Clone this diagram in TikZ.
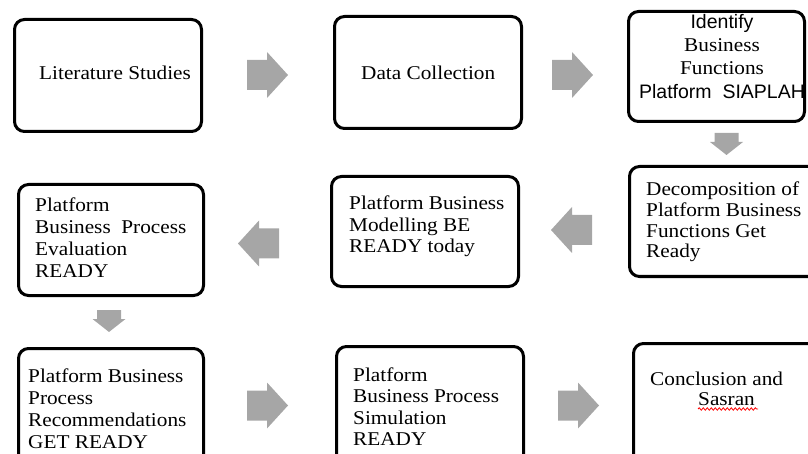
\documentclass[tikz,border=0pt]{standalone}
\usepackage{fontspec}
\setmainfont[FakeStretch=1.09]{Liberation Serif}
\newfontfamily\sansf{Liberation Sans}
\usetikzlibrary{decorations.pathmorphing}
\definecolor{arrowgray}{RGB}{166,166,166}
\tikzset{
  box/.style={draw=black, line width=3pt, rounded corners=10pt, inner sep=0pt, fill=white},
  txt/.style={inner sep=0pt, align=left, anchor=north west},
  bigarrow/.pic={\fill[arrowgray] (0,-15) -- (20,-15) -- (20,-23) -- (41,0) -- (20,23) -- (20,15) -- (0,15) -- cycle;},
  smallarrow/.pic={\fill[arrowgray] (0,-12) -- (9,-12) -- (9,-16.5) -- (22,0) -- (9,16.5) -- (9,12) -- (0,12) -- cycle;}
}
\begin{document}
\begin{tikzpicture}[x=1pt,y=-1pt]
\useasboundingbox (0,0) rectangle (808,454);
\clip (0,0) rectangle (808,454);
% boxes
\node[box, minimum width=187pt, minimum height=112pt] (b1) at (108,75.5) {};
\node[box, minimum width=187pt, minimum height=112pt] (b2) at (428,72.5) {};
\node[box, minimum width=176pt, minimum height=110pt] (b3) at (716.5,66.5) {};
\node[box, minimum width=189pt, minimum height=110pt] (b4) at (724,221.5) {};
\node[box, minimum width=187pt, minimum height=110pt] (b5) at (425,231.5) {};
\node[box, minimum width=185pt, minimum height=111pt] (b6) at (111,240) {};
\node[box, minimum width=185pt, minimum height=120pt] (b7) at (111,408.5) {};
\node[box, minimum width=187pt, minimum height=122pt] (b8) at (430,407.5) {};
\node[box, minimum width=185pt, minimum height=125pt] (b9) at (726,406) {};
% texts
\begin{scope}[every node/.append style={font=\fontsize{19.5}{22}\selectfont}]
\node[inner sep=0pt, anchor=base west] (t1) at (39,80) {Literature Studies};
\node[inner sep=0pt, anchor=base west] (t2) at (361,80) {Data Collection};
\node[inner sep=0pt, align=center, anchor=north, font=\fontsize{19.5}{23.3}\selectfont] (t3) at (722,13.8)
  {{\sansf Identify}\\Business\\Functions\\{\sansf Platform\ \ SIAPLAH}};
\node[txt, font=\fontsize{19.5}{20.7}\selectfont] (t4) at (646,181.7)
  {Decomposition of\\Platform Business\\Functions Get\\Ready};
\node[txt, font=\fontsize{19.5}{21.2}\selectfont] (t5) at (349,196)
  {Platform Business\\Modelling BE\\READY today};
\node[txt, font=\fontsize{19.5}{22}\selectfont] (t6) at (35,197.4)
  {Platform\\Business\ \ Process\\Evaluation\\READY};
\node[txt, font=\fontsize{19.5}{21.9}\selectfont] (t7) at (28,368.4)
  {Platform Business\\Process\\Recommendations\\GET READY};
\node[txt, font=\fontsize{19.5}{21.4}\selectfont] (t8) at (353,367.4)
  {Platform\\Business Process\\Simulation\\READY};
\node[txt, font=\fontsize{19.5}{20}\selectfont] (t9) at (650,371.7)
  {Conclusion and\\\hspace*{48pt}Sasran};
\end{scope}
\draw[red, line width=0.8pt, decorate, decoration={snake, amplitude=1.2pt, segment length=4pt}] (698,409) -- (758,409);
% block arrows
\pic at (247,75) {bigarrow};
\pic at (552,75) {bigarrow};
\pic[rotate=-90] at (726.5,133) {smallarrow};
\pic[rotate=180] at (592,230) {bigarrow};
\pic[rotate=180] at (279,243.5) {bigarrow};
\pic[rotate=-90] at (109,310) {smallarrow};
\pic at (247,405.5) {bigarrow};
\pic at (558,405.5) {bigarrow};
\end{tikzpicture}
\end{document}
